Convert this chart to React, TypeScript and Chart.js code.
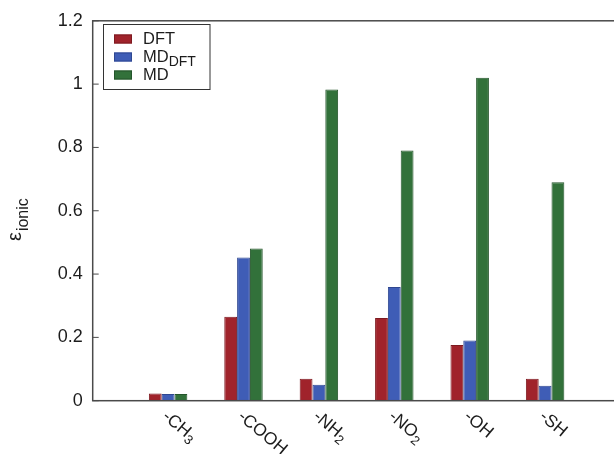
import React, { useEffect, useRef } from 'react';
import { Chart, registerables } from 'chart.js';

Chart.register(...registerables);

// ---- data ----
const categories = ['-CH_3', '-COOH', '-NH_2', '-NO_2', '-OH', '-SH'];
const seriesNames = ['DFT', 'MD_DFT', 'MD'];
const dftValues = [0.023, 0.265, 0.069, 0.261, 0.176, 0.069];
const mdDftValues = [0.021, 0.452, 0.05, 0.359, 0.19, 0.047];
const mdValues = [0.021, 0.481, 0.983, 0.79, 1.02, 0.69];
const yTicks = [0, 0.2, 0.4, 0.6, 0.8, 1, 1.2];
const yTitleMain = 'ε';
const yTitleSub = 'ionic';

const fillColors = ['#a0232b', '#3f5db6', '#32713a'];
const edgeColors = ['#7d1a20', '#2f4790', '#24552b'];
const FONT = '"Liberation Sans", Arial, Helvetica, sans-serif';
const TEXT = '#1c1c1c';

function drawRich(ctx: CanvasRenderingContext2D, text: string, x: number, y: number, size: number, subSize: number, subShift: number) {
  const [main, sub] = text.split('_');
  ctx.font = `${size}px ${FONT}`;
  ctx.fillText(main, x, y);
  const w = ctx.measureText(main).width;
  if (sub) {
    ctx.font = `${subSize}px ${FONT}`;
    ctx.fillText(sub, x + w, y + subShift);
  }
}

const decoPlugin = {
  id: 'deco',
  afterDraw(chart: any) {
    const { ctx, chartArea: a, scales } = chart;
    ctx.save();
    // frame
    ctx.strokeStyle = '#4a4a4a';
    ctx.lineWidth = 1.5;
    ctx.strokeRect(a.left, a.top, a.right - a.left, a.bottom - a.top);
    // inward ticks
    ctx.lineWidth = 1;
    yTicks.forEach((v) => {
      const y = scales.y.getPixelForValue(v);
      ctx.beginPath();
      ctx.moveTo(a.left, y);
      ctx.lineTo(a.left + 6, y);
      ctx.moveTo(a.right - 6, y);
      ctx.lineTo(a.right, y);
      ctx.stroke();
    });
    // x labels (rotated, with subscripts)
    ctx.fillStyle = TEXT;
    ctx.textAlign = 'left';
    ctx.textBaseline = 'middle';
    categories.forEach((c, i) => {
      const x = scales.x.getPixelForValue(i + 1);
      ctx.save();
      ctx.translate(x - 3.5, a.bottom + 13.5);
      ctx.rotate((40 * Math.PI) / 180);
      drawRich(ctx, c, 0, 0, 17.5, 13, 5);
      ctx.restore();
    });
    // y title
    ctx.save();
    ctx.translate(21, 241);
    ctx.rotate(-Math.PI / 2);
    ctx.textBaseline = 'alphabetic';
    ctx.font = `20px ${FONT}`;
    ctx.fillText(yTitleMain, 0, 0);
    const we = ctx.measureText(yTitleMain).width;
    ctx.font = `16px ${FONT}`;
    ctx.fillText(yTitleSub, we + 1, 7);
    ctx.restore();
    // legend
    ctx.strokeStyle = '#333';
    ctx.lineWidth = 1;
    ctx.fillStyle = '#fff';
    ctx.fillRect(103.5, 24.5, 106.5, 65);
    ctx.strokeRect(103.5, 24.5, 106.5, 65);
    const rows = [39, 57, 75];
    seriesNames.forEach((n, i) => {
      ctx.fillStyle = fillColors[i];
      ctx.fillRect(114, rows[i] - 4.5, 18, 9);
      ctx.strokeStyle = edgeColors[i];
      ctx.strokeRect(114.5, rows[i] - 4, 17, 8);
      ctx.fillStyle = TEXT;
      ctx.textBaseline = 'middle';
      drawRich(ctx, n, 143, rows[i], 16.5, 14, 5);
    });
    ctx.restore();
  },
};

export default function App() {
  const ref = useRef<HTMLCanvasElement>(null);
  useEffect(() => {
    if (!ref.current) return;
    const labels = ['', ...categories, ''];
    const pad = (arr: number[]) => [null, ...arr, null];
    const chart = new Chart(ref.current, {
      type: 'bar',
      data: {
        labels,
        datasets: [dftValues, mdDftValues, mdValues].map((vals, i) => ({
          label: seriesNames[i],
          data: pad(vals) as any,
          backgroundColor: fillColors[i],
          borderColor: edgeColors[i],
          borderWidth: 1,
          categoryPercentage: 0.51,
          barPercentage: 1,
        })),
      },
      options: {
        responsive: false,
        animation: false,
        layout: { padding: { left: 0, top: 20, right: 9.5, bottom: 53.3 } },
        plugins: { legend: { display: false }, tooltip: { enabled: false } },
        scales: {
          x: {
            offset: false,
            grid: { display: false, drawTicks: false },
            border: { display: false },
            ticks: { display: false },
            afterFit: (s: any) => { s.height = 0; },
          },
          y: {
            min: 0,
            max: 1.2,
            grid: { display: false, drawTicks: false },
            border: { display: false },
            afterBuildTicks: (s: any) => { s.ticks = yTicks.map((v) => ({ value: v })); },
            ticks: {
              stepSize: 0.2,
              padding: 10,
              color: TEXT,
              font: { family: FONT, size: 18 },
              callback: (v: any) => String(Number(Number(v).toFixed(2))),
            },
            afterFit: (s: any) => { s.width = 92.7; },
          },
        },
      },
      plugins: [decoPlugin],
    });
    return () => chart.destroy();
  }, []);
  return (
    <div style={{ position: 'fixed', left: 0, top: 0, width: 614, height: 454, overflow: 'hidden', background: '#fff' }}>
      <canvas ref={ref} width={630} height={454} style={{ display: 'block' }} />
    </div>
  );
}
